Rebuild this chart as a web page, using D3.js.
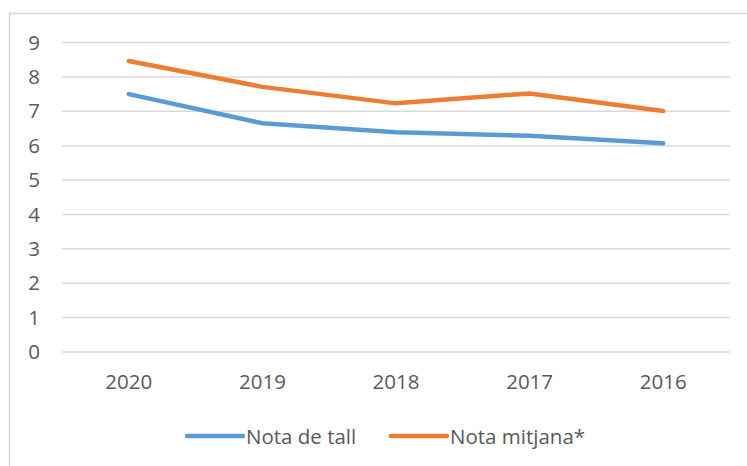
<!DOCTYPE html>
<html>
<head>
<meta charset="utf-8">
<script src="https://cdn.jsdelivr.net/npm/d3@7"></script>
<style>
    body { margin: 0; background: #fff; }
    svg { display: block; font-family: 'Open Sans', sans-serif; }
</style>
</head>
<body>
<svg id="chart" width="747" height="466"></svg>
<script>
// DATA
const years = ['2020', '2019', '2018', '2017', '2016'];
const notaTall = [7.5, 6.65, 6.39, 6.29, 6.07];
const notaMitjana = [8.46, 7.71, 7.23, 7.52, 7.01];
const yTicks = [0, 1, 2, 3, 4, 5, 6, 7, 8, 9];
const seriesNames = ['Nota de tall', 'Nota mitjana*'];

const colors = ['#5b9bd5', '#ed7d31'];
const textColor = '#595959';
const fontSize = '20.5px';

const svg = d3.select('#chart');

// outer frame (clipped by the window on right and bottom)
svg.append('rect')
    .attr('x', 9.5)
    .attr('y', 13.5)
    .attr('width', 800)
    .attr('height', 500)
    .attr('fill', 'none')
    .attr('stroke', '#d9d9d9')
    .attr('stroke-width', 1.5);

// MARGINS
const margin = { top: 42.5, right: 17, bottom: 114, left: 62 };
const width = 747 - margin.left - margin.right;
const height = 466 - margin.top - margin.bottom;

const g = svg.append('g')
    .attr('transform', 'translate(' + margin.left + ',' + margin.top + ')');

// SCALES
const x = d3.scaleBand().domain(years).range([0, width]);
const y = d3.scaleLinear().domain([0, 9]).range([height, 0]);

// GRID
g.append('g')
    .selectAll('line')
    .data(yTicks)
    .enter()
    .append('line')
    .attr('x1', 0)
    .attr('x2', width)
    .attr('y1', d => y(d))
    .attr('y2', d => y(d))
    .attr('stroke', '#d9d9d9')
    .attr('stroke-width', 1.5);

// Y AXIS LABELS
const yAxis = g.append('g')
    .call(d3.axisLeft(y).tickValues(yTicks).tickSize(0).tickPadding(22));
yAxis.select('.domain').remove();
yAxis.selectAll('text')
    .attr('fill', textColor)
    .style('font-size', fontSize)
    .style('font-family', "'Open Sans', sans-serif");

// X AXIS LABELS
const xAxis = g.append('g')
    .attr('transform', `translate(0, ${height})`)
    .call(d3.axisBottom(x).tickSize(0).tickPadding(22));
xAxis.select('.domain').remove();
xAxis.selectAll('text')
    .attr('fill', textColor)
    .style('font-size', fontSize)
    .style('font-family', "'Open Sans', sans-serif");

// LINES
const line = d3.line()
    .x((d, i) => x(years[i]) + x.bandwidth() / 2)
    .y(d => y(d));

[notaTall, notaMitjana].forEach((vals, i) => {
    g.append('path')
        .datum(vals)
        .attr('d', line)
        .attr('fill', 'none')
        .attr('stroke', colors[i])
        .attr('stroke-width', 4.5)
        .attr('stroke-linecap', 'round')
        .attr('stroke-linejoin', 'round');
});

// LEGEND
const legendX = [187, 391];
const legend = svg.append('g');
seriesNames.forEach((name, i) => {
    legend.append('line')
        .attr('x1', legendX[i])
        .attr('x2', legendX[i] + 56)
        .attr('y1', 436)
        .attr('y2', 436)
        .attr('stroke', colors[i])
        .attr('stroke-width', 4.5)
        .attr('stroke-linecap', 'round');
    legend.append('text')
        .attr('x', legendX[i] + 59)
        .attr('y', 443.5)
        .attr('fill', textColor)
        .style('font-size', fontSize)
        .text(name);
});
</script>
</body>
</html>
